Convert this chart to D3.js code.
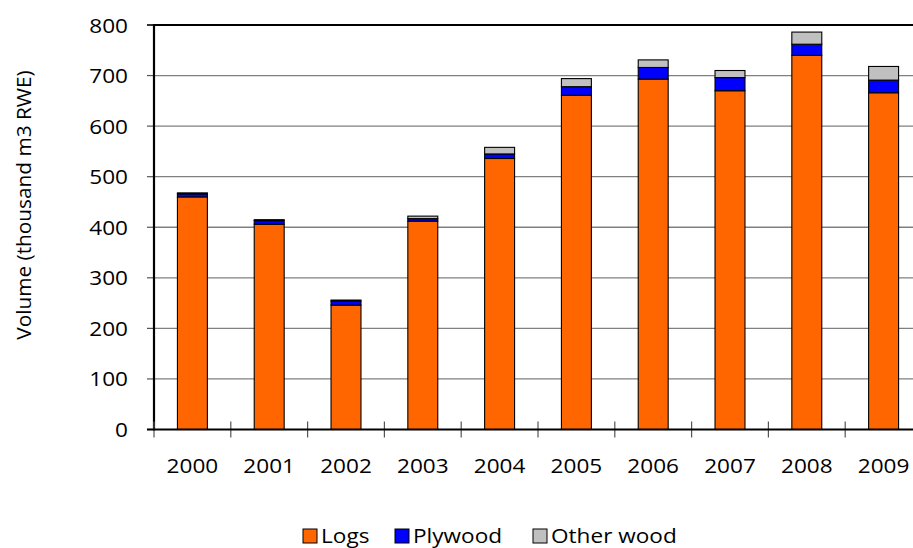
<!DOCTYPE html>
<html>
<head>
<meta charset="utf-8">
<script src="https://cdn.jsdelivr.net/npm/d3@7"></script>
<style>
  html, body { margin: 0; padding: 0; background: #fff; }
  svg { display: block; }
  text { font-family: "Open Sans", "Liberation Sans", sans-serif; fill: #000; }
</style>
</head>
<body>
<svg id="chart" width="913" height="548"></svg>
<script>
const years = ["2000","2001","2002","2003","2004","2005","2006","2007","2008","2009"];
const logs = [460, 406, 246, 412, 536, 661, 693, 670, 740, 666];
const plywood = [6, 7, 8, 5, 9, 17, 23, 26, 22, 25];
const otherWood = [2, 2, 2, 5, 13, 16, 15, 14, 24, 27];
const seriesNames = ["Logs", "Plywood", "Other wood"];
const seriesColors = ["#FF6600", "#0000FF", "#C0C0C0"];
const yTicks = [0, 100, 200, 300, 400, 500, 600, 700, 800];
const yTitle = "Volume (thousand m3 RWE)";

(function () {
const svg = d3.select("#chart");
const mLeft = 154, mRight = 922, mTop = 25, mBottom = 429.5;
const SX = 1.13, FS = 20;

const x = d3.scaleBand().domain(years).range([mLeft, mRight]).padding(0);
const y = d3.scaleLinear().domain([0, 800]).range([mBottom, mTop]);
const barW = x.bandwidth() * 0.39;

function label(g, txt, px, py, anchor, rot, sx) {
  return g.append("text")
    .attr("transform", `translate(${px},${py})` + (rot ? ` rotate(${rot})` : "") + ` scale(${sx || SX},1)`)
    .attr("text-anchor", anchor)
    .style("font-size", FS + "px")
    .text(txt);
}

// gridlines
const grid = svg.append("g");
yTicks.filter(v => v > 0 && v < 800).forEach(v => {
  grid.append("line").attr("x1", mLeft).attr("x2", mRight)
    .attr("y1", y(v)).attr("y2", y(v))
    .attr("stroke", "#808080").attr("stroke-width", 1.3);
});
// top border
svg.append("line").attr("x1", mLeft - 7).attr("x2", mRight).attr("y1", y(800)).attr("y2", y(800))
  .attr("stroke", "#000").attr("stroke-width", 2);

// stacked bars
const table = years.map((yr, i) => ({year: yr, Logs: logs[i], Plywood: plywood[i], "Other wood": otherWood[i]}));
const stack = d3.stack().keys(seriesNames)(table);
const barsG = svg.append("g");
stack.forEach((layer, si) => {
  barsG.selectAll(null).data(layer).enter().append("rect")
    .attr("x", d => x(d.data.year) + (x.bandwidth() - barW) / 2)
    .attr("width", barW)
    .attr("y", d => y(d[1]))
    .attr("height", d => y(d[0]) - y(d[1]))
    .attr("fill", seriesColors[si])
    .attr("stroke", "#000").attr("stroke-width", 1.1);
});

// y axis
const yAxisG = svg.append("g");
yTicks.forEach(v => {
  yAxisG.append("line").attr("x1", mLeft - 7).attr("x2", mLeft).attr("y1", y(v)).attr("y2", y(v))
    .attr("stroke", "#555").attr("stroke-width", 1.2);
  label(yAxisG, String(v), 128, y(v) + 7.5, "end");
});
yAxisG.append("line").attr("x1", mLeft).attr("x2", mLeft).attr("y1", mTop - 1).attr("y2", mBottom + 1)
  .attr("stroke", "#000").attr("stroke-width", 2.2);

// x axis
const xAxisG = svg.append("g");
years.forEach((yr) => {
  const xb = x(yr);
  xAxisG.append("line").attr("x1", xb).attr("x2", xb).attr("y1", mBottom - 8).attr("y2", mBottom + 8)
    .attr("stroke", "#555").attr("stroke-width", 1.2);
  label(xAxisG, yr, xb + x.bandwidth() / 2, 473, "middle");
});
xAxisG.append("line").attr("x1", mLeft - 7).attr("x2", mRight).attr("y1", mBottom).attr("y2", mBottom)
  .attr("stroke", "#000").attr("stroke-width", 2.2);

// y title
label(svg, yTitle, 31, 205, "middle", -90, 1.04);

// legend
const legend = svg.append("g");
const legX = [303, 395, 533];
seriesNames.forEach((name, i) => {
  legend.append("rect").attr("x", legX[i]).attr("y", 529).attr("width", 14).attr("height", 14)
    .attr("fill", seriesColors[i]).attr("stroke", "#000").attr("stroke-width", 1);
  label(legend, name, legX[i] + 18, 543, "start");
});
})();
</script>
</body>
</html>
